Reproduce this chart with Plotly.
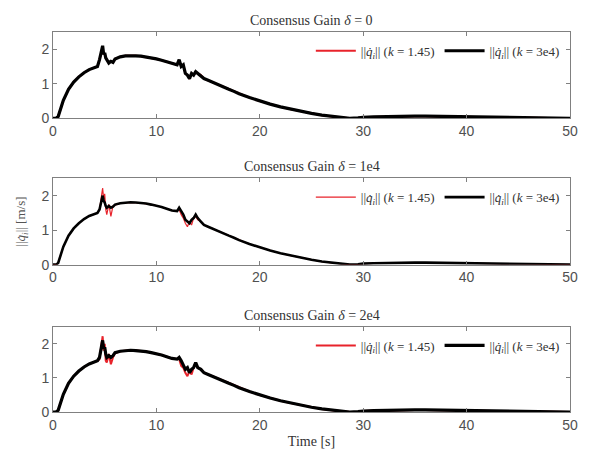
import plotly.graph_objects as go

# ---------------- data ----------------
t = [0, 0.3, 0.5, 1, 1.5, 2, 2.5, 3, 3.5, 4,
     4.3, 4.5, 4.7, 4.8, 4.9, 5.0, 5.1, 5.2, 5.4, 5.6,
     5.8, 6.0, 6.5, 7, 7.5, 8, 8.5, 9, 9.5, 10,
     10.5, 11, 11.5, 12, 12.2, 12.4, 12.6, 12.8, 13.0, 13.2,
     13.4, 13.6, 13.8, 14.0, 14.3, 14.6, 15, 15.5, 16, 16.5,
     17, 17.5, 18, 19, 20, 21, 22, 23, 24, 25,
     26, 27, 28, 28.7, 29.5, 30, 31, 32, 33, 34,
     35, 36, 38, 40, 42, 44, 46, 48, 50]

tail = [0.84, 0.78, 0.71, 0.6, 0.5, 0.41, 0.33, 0.26, 0.2, 0.14,
        0.09, 0.05, 0.02, 0.0, 0.01, 0.03, 0.04, 0.05, 0.05, 0.06,
        0.06, 0.06, 0.05, 0.05, 0.04, 0.03, 0.02, 0.01, 0.0]

black_d0 = [0, 0, 0.05, 0.52, 0.84, 1.05, 1.2, 1.32, 1.41, 1.46,
            1.5, 1.7, 1.95, 2.1, 1.85, 1.9, 1.75, 1.7, 1.6, 1.65,
            1.62, 1.72, 1.78, 1.81, 1.82, 1.81, 1.8, 1.78, 1.75, 1.72,
            1.68, 1.63, 1.58, 1.55, 1.7, 1.5, 1.55, 1.3, 1.25, 1.15,
            1.3, 1.25, 1.35, 1.3, 1.25, 1.15, 1.1, 1.03, 0.97, 0.9] + tail
red_d0 = [0, 0, 0.05, 0.52, 0.84, 1.05, 1.2, 1.32, 1.41, 1.46,
          1.5, 1.7, 1.95, 2.05, 1.85, 1.88, 1.75, 1.7, 1.6, 1.65,
          1.62, 1.72, 1.78, 1.81, 1.82, 1.81, 1.8, 1.78, 1.75, 1.72,
          1.68, 1.63, 1.58, 1.55, 1.68, 1.5, 1.55, 1.3, 1.25, 1.17,
          1.3, 1.25, 1.33, 1.3, 1.25, 1.15, 1.1, 1.03, 0.97, 0.9] + tail

black_d1 = [0, 0, 0.05, 0.52, 0.84, 1.05, 1.2, 1.32, 1.41, 1.46,
            1.5, 1.6, 1.85, 2.0, 1.85, 1.8, 1.7, 1.65, 1.7, 1.65,
            1.68, 1.74, 1.78, 1.8, 1.81, 1.8, 1.79, 1.77, 1.74, 1.71,
            1.67, 1.62, 1.57, 1.55, 1.65, 1.55, 1.45, 1.3, 1.25, 1.2,
            1.3, 1.35, 1.45, 1.35, 1.25, 1.15, 1.1, 1.03, 0.97, 0.9] + tail
red_d1 = [0, 0, 0.05, 0.52, 0.84, 1.05, 1.2, 1.32, 1.41, 1.46,
          1.5, 1.6, 2.0, 2.22, 1.9, 2.05, 1.6, 1.45, 1.75, 1.4,
          1.7, 1.72, 1.78, 1.8, 1.81, 1.8, 1.79, 1.77, 1.74, 1.71,
          1.67, 1.62, 1.57, 1.55, 1.6, 1.45, 1.35, 1.2, 1.1, 1.25,
          1.15, 1.35, 1.4, 1.3, 1.25, 1.15, 1.1, 1.03, 0.97, 0.9] + tail

black_d2 = [0, 0, 0.05, 0.52, 0.84, 1.05, 1.2, 1.32, 1.41, 1.46,
            1.5, 1.6, 1.9, 2.1, 1.85, 1.9, 1.7, 1.6, 1.65, 1.6,
            1.65, 1.74, 1.78, 1.8, 1.81, 1.8, 1.79, 1.77, 1.74, 1.71,
            1.67, 1.62, 1.57, 1.55, 1.6, 1.5, 1.35, 1.25, 1.3, 1.15,
            1.25, 1.3, 1.45, 1.3, 1.25, 1.15, 1.1, 1.03, 0.97, 0.9] + tail
red_d2 = [0, 0, 0.05, 0.52, 0.84, 1.05, 1.2, 1.32, 1.41, 1.46,
          1.5, 1.55, 2.05, 2.22, 1.8, 2.0, 1.5, 1.45, 1.7, 1.4,
          1.6, 1.72, 1.78, 1.8, 1.81, 1.8, 1.79, 1.77, 1.74, 1.71,
          1.67, 1.62, 1.57, 1.55, 1.55, 1.35, 1.3, 1.15, 1.05, 1.2,
          1.1, 1.3, 1.4, 1.3, 1.25, 1.15, 1.1, 1.03, 0.97, 0.9] + tail

titles = ["Consensus Gain <i>δ</i> = 0",
          "Consensus Gain <i>δ</i> = 1e4",
          "Consensus Gain <i>δ</i> = 2e4"]
red_label = "||<i>q̇<sub>i</sub></i>|| (<i>k</i> = 1.45)"
black_label = "||<i>q̇<sub>i</sub></i>|| (<i>k</i> = 3e4)"
x_ticks = [0, 10, 20, 30, 40, 50]
y_ticks = [0, 1, 2]

series = [(red_d0, black_d0), (red_d1, black_d1), (red_d2, black_d2)]

# ---------------- layout ----------------
W, H = 590, 459
ml, mr, mt, mb = 53, 16, 32, 35
ph = H - mt - mb
panels_px = [(32, 121), (183, 272), (336, 424)]
domains = [[(H - mb - b) / ph, (H - mb - tp) / ph] for tp, b in panels_px]

RED = "#e8232b"
SERIF = "Liberation Serif, Times New Roman, serif"
SANS = "Liberation Sans, Arial, sans-serif"

fig = go.Figure()
layout = dict(width=W, height=H,
              margin=dict(l=ml, r=mr, t=mt, b=mb),
              paper_bgcolor="white", plot_bgcolor="white",
              showlegend=True, annotations=[])

widths = [(2.0, 3.2), (1.2, 2.6), (2.0, 3.2)]
for i, (red, black) in enumerate(series):
    sfx = "" if i == 0 else str(i + 1)
    leg = "legend" if i == 0 else "legend" + str(i + 1)
    fig.add_trace(go.Scatter(x=t, y=red, mode="lines", name=red_label,
                             line=dict(color=RED, width=widths[i][0]),
                             xaxis="x" + sfx, yaxis="y" + sfx, legend=leg))
    fig.add_trace(go.Scatter(x=t, y=black, mode="lines", name=black_label,
                             line=dict(color="black", width=widths[i][1]),
                             xaxis="x" + sfx, yaxis="y" + sfx, legend=leg))
    common = dict(showgrid=False, zeroline=False, showline=True,
                  linecolor="#808080", linewidth=1, mirror="ticks",
                  ticks="inside", ticklen=4, tickcolor="#808080",
                  tickfont=dict(family=SANS, size=14, color="#505050"))
    layout["xaxis" + sfx] = dict(common, domain=[0, 1], range=[0, 50],
                                 tickvals=x_ticks,
                                 anchor="y" + sfx)
    layout["yaxis" + sfx] = dict(common, domain=domains[i], range=[0, 2.5],
                                 tickvals=y_ticks,
                                 anchor="x" + sfx)
    layout[leg] = dict(orientation="h", x=0.99, xanchor="right",
                       y=domains[i][1] - 0.01, yanchor="top",
                       bgcolor="rgba(0,0,0,0)", borderwidth=0,
                       font=dict(family=SERIF, size=13, color="#333333"),
                       itemwidth=40, tracegroupgap=0)
    layout["annotations"].append(dict(
        text=titles[i], x=0.5, xref="paper", y=domains[i][1], yref="paper",
        yanchor="bottom", yshift=2, showarrow=False,
        font=dict(family=SERIF, size=14, color="#333333")))

layout["yaxis2"]["title"] = dict(text="||<i>q̇<sub>i</sub></i>|| [m/s]",
                                 font=dict(family=SERIF, size=13, color="#555555"),
                                 standoff=12)
layout["xaxis3"]["title"] = dict(text="Time [s]",
                                 font=dict(family=SERIF, size=14, color="#333333"),
                                 standoff=4)

fig.update_layout(**layout)
fig.write_html("out.html")
